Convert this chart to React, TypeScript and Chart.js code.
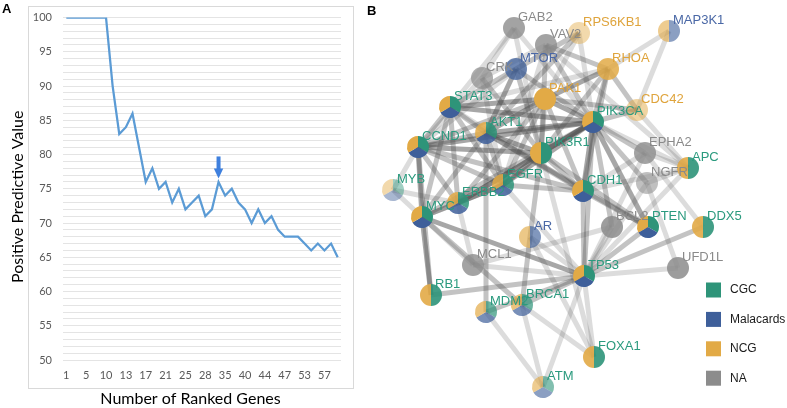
import React, { useEffect, useRef } from 'react';
import { Chart, registerables } from 'chart.js';

Chart.register(...registerables);

// ---------------- Panel A data ----------------
const rankLabels = ['1', '2', '3', '5', '6', '8', '10', '11', '12', '13', '14', '16', '17', '18', '20', '21', '22', '24', '25', '26', '27', '28', '30', '33', '35', '37', '38', '40', '41', '43', '44', '45', '46', '47', '49', '51', '53', '54', '56', '57', '58', '59'];
const shownRankTicks = ['1', '5', '10', '13', '17', '21', '25', '28', '35', '40', '44', '47', '53', '57'];
const ppvValues = [100, 100, 100, 100, 100, 100, 100, 90, 83, 84, 86, 81, 76, 78, 75, 76, 73, 75, 72, 73, 74, 71, 72, 76, 74, 75, 73, 72, 70, 72, 70, 71, 69, 68, 68, 68, 67, 66, 67, 66, 67, 65];
const markedRank = '33';
const yMin = 50;
const yMax = 100;

// ---------------- Panel B data ----------------
const geneNames = ['GAB2', 'RPS6KB1', 'MAP3K1', 'VAV2', 'MTOR', 'CRK', 'RHOA', 'PAK1', 'CDC42', 'STAT3', 'PIK3CA', 'AKT1', 'CCND1', 'PIK3R1', 'EPHA2', 'APC', 'MYB', 'EGFR', 'CDH1', 'NGFR', 'ERBB2', 'MYC', 'BCL2', 'PTEN', 'DDX5', 'AR', 'MCL1', 'UFD1L', 'TP53', 'RB1', 'BRCA1', 'MDM2', 'FOXA1', 'ATM'];
const geneX = [514, 579, 669, 546, 516, 482, 608, 545, 637, 450, 593, 486, 418, 541, 645, 688, 393, 503, 583, 647, 458, 422, 612, 648, 703, 530, 473, 678, 584, 431, 522, 486, 594, 543];
const geneY = [28, 33, 31, 45, 69, 78, 69, 99, 110, 107, 122, 133, 147, 153, 153, 168, 190, 185, 191, 183, 203, 217, 227, 227, 227, 237, 265, 268, 276, 295, 305, 312, 357, 387];
const inCGC = [0, 0, 0, 0, 0, 0, 0, 0, 0, 1, 1, 1, 1, 1, 0, 1, 1, 1, 1, 0, 1, 1, 0, 1, 1, 0, 0, 0, 1, 1, 1, 1, 1, 1];
const inMalacards = [0, 0, 1, 0, 1, 0, 0, 0, 0, 1, 1, 1, 1, 0, 0, 0, 1, 1, 1, 0, 1, 1, 0, 1, 0, 1, 0, 0, 1, 0, 1, 1, 0, 1];
const inNCG = [0, 1, 1, 0, 0, 0, 1, 1, 1, 1, 1, 1, 1, 1, 0, 1, 1, 1, 1, 0, 1, 1, 0, 1, 1, 1, 0, 0, 1, 1, 1, 1, 1, 1];
const geneOpacity = [0.8, 0.45, 0.6, 0.8, 0.75, 0.7, 0.85, 1, 0.5, 1, 1, 0.85, 1, 1, 0.8, 0.9, 0.45, 0.85, 1, 0.55, 0.85, 1, 0.85, 1, 0.9, 0.65, 0.8, 0.85, 1, 0.9, 0.7, 0.7, 0.9, 0.6];

const S = 0.5; // strong
const M = 0.34; // medium
const L = 0.2; // light
const interactions: [string, string, number][] = [
  ['GAB2', 'CRK', L], ['GAB2', 'PIK3R1', L], ['GAB2', 'PIK3CA', L], ['GAB2', 'STAT3', L],
  ['VAV2', 'RHOA', M], ['VAV2', 'PIK3R1', M], ['VAV2', 'PIK3CA', M], ['VAV2', 'EGFR', L], ['VAV2', 'APC', L], ['VAV2', 'CRK', L],
  ['RPS6KB1', 'MTOR', M], ['RPS6KB1', 'AKT1', M], ['RPS6KB1', 'PIK3CA', L], ['RPS6KB1', 'PAK1', L],
  ['MAP3K1', 'RHOA', L], ['MAP3K1', 'CDC42', L],
  ['MTOR', 'AKT1', S], ['MTOR', 'PIK3CA', M], ['MTOR', 'STAT3', M], ['MTOR', 'PIK3R1', M], ['MTOR', 'CCND1', L],
  ['CRK', 'PIK3R1', M], ['CRK', 'EGFR', L], ['CRK', 'CCND1', L],
  ['RHOA', 'PAK1', S], ['RHOA', 'CDC42', M], ['RHOA', 'PIK3CA', M], ['RHOA', 'PIK3R1', M], ['RHOA', 'CDH1', M], ['RHOA', 'STAT3', L],
  ['PAK1', 'CDC42', M], ['PAK1', 'PIK3CA', S], ['PAK1', 'PIK3R1', M], ['PAK1', 'STAT3', S], ['PAK1', 'AKT1', S], ['PAK1', 'CCND1', M], ['PAK1', 'EGFR', M], ['PAK1', 'ERBB2', M], ['PAK1', 'CDH1', M],
  ['CDC42', 'PIK3CA', M], ['CDC42', 'APC', L],
  ['STAT3', 'AKT1', M], ['STAT3', 'PIK3CA', S], ['STAT3', 'CCND1', M], ['STAT3', 'EGFR', M], ['STAT3', 'ERBB2', M], ['STAT3', 'MYC', M], ['STAT3', 'CDH1', L],
  ['CCND1', 'AKT1', M], ['CCND1', 'PIK3CA', S], ['CCND1', 'PIK3R1', S], ['CCND1', 'MYC', S], ['CCND1', 'MYB', L], ['CCND1', 'EGFR', M], ['CCND1', 'ERBB2', M], ['CCND1', 'CDH1', M], ['CCND1', 'RB1', M],
  ['AKT1', 'PIK3CA', S], ['AKT1', 'PIK3R1', S], ['AKT1', 'EGFR', M], ['AKT1', 'MDM2', M], ['AKT1', 'CDH1', M], ['AKT1', 'MYC', M], ['AKT1', 'PTEN', M],
  ['PIK3CA', 'PIK3R1', S], ['PIK3CA', 'CDH1', S], ['PIK3CA', 'EGFR', S], ['PIK3CA', 'ERBB2', S], ['PIK3CA', 'TP53', M], ['PIK3CA', 'PTEN', S], ['PIK3CA', 'EPHA2', M], ['PIK3CA', 'NGFR', M], ['PIK3CA', 'BCL2', M], ['PIK3CA', 'APC', L], ['PIK3CA', 'MYC', M],
  ['PIK3R1', 'EGFR', S], ['PIK3R1', 'ERBB2', M], ['PIK3R1', 'CDH1', M], ['PIK3R1', 'AR', M], ['PIK3R1', 'FOXA1', L], ['PIK3R1', 'PTEN', M],
  ['EGFR', 'ERBB2', S], ['EGFR', 'CDH1', M], ['EGFR', 'MYC', M], ['EGFR', 'TP53', L],
  ['CDH1', 'PTEN', M], ['CDH1', 'APC', L], ['CDH1', 'TP53', M], ['CDH1', 'EPHA2', L],
  ['ERBB2', 'MYC', M], ['MYB', 'MYC', L], ['MYB', 'ERBB2', L],
  ['MYC', 'RB1', S], ['MYC', 'TP53', S], ['MYC', 'BRCA1', M], ['MYC', 'MCL1', L],
  ['RB1', 'TP53', M], ['MCL1', 'TP53', L], ['MCL1', 'BCL2', L], ['MCL1', 'ERBB2', L],
  ['MDM2', 'TP53', M], ['MDM2', 'ATM', L], ['BRCA1', 'TP53', M], ['BRCA1', 'ATM', L], ['BRCA1', 'FOXA1', L],
  ['AR', 'BRCA1', M], ['AR', 'FOXA1', L], ['AR', 'TP53', L], ['ATM', 'TP53', L], ['FOXA1', 'TP53', L],
  ['TP53', 'BCL2', L], ['TP53', 'PTEN', M], ['TP53', 'DDX5', M], ['TP53', 'UFD1L', L], ['TP53', 'NGFR', L], ['TP53', 'EPHA2', L], ['TP53', 'APC', L],
  ['UFD1L', 'NGFR', L], ['EPHA2', 'DDX5', L], ['EPHA2', 'APC', L], ['NGFR', 'APC', L],
];

const legendNames = ['CGC', 'Malacards', 'NCG', 'NA'];
const legendColors = ['#2e9479', '#3e5f9a', '#e2aa46', '#8c8c8c'];
const labelColors = ['#2a9a7e', '#4a68a6', '#dfa43c', '#8a8a8a'];

const excelFont = "Lato, 'Open Sans', sans-serif";
const netFont = "'Liberation Sans', Arial, sans-serif";

// ---------------- Panel A plugin ----------------
const panelAPlugin = {
  id: 'panelA',
  beforeDraw(chart: any) {
    const { ctx, chartArea: ca } = chart;
    ctx.save();
    ctx.fillStyle = '#ffffff';
    ctx.fillRect(0, 0, chart.width, chart.height);
    const bx = Math.round(ca.left - 35) + 0.5;
    const by = Math.round(ca.top - 12) + 0.5;
    const bw = Math.round(ca.right + 12 - (ca.left - 35));
    const bh = Math.round(ca.bottom + 28 - (ca.top - 12));
    ctx.strokeStyle = '#d9d9d9';
    ctx.lineWidth = 1;
    ctx.strokeRect(bx, by, bw, bh);
    ctx.restore();
  },
  afterDatasetsDraw(chart: any) {
    const { ctx } = chart;
    const xs = chart.scales.x;
    const ys = chart.scales.y;
    const idx = rankLabels.indexOf(markedRank);
    const x = xs.getPixelForValue(idx);
    const tip = ys.getPixelForValue(ppvValues[idx]) - 3.5;
    ctx.save();
    ctx.fillStyle = '#3f80de';
    ctx.fillRect(x - 2, tip - 22, 4, 13);
    ctx.beginPath();
    ctx.moveTo(x - 4.7, tip - 10);
    ctx.lineTo(x + 4.7, tip - 10);
    ctx.lineTo(x, tip);
    ctx.closePath();
    ctx.fill();
    ctx.restore();
  },
  afterDraw(chart: any) {
    const { ctx, chartArea: ca } = chart;
    const boxL = ca.left - 35;
    const boxR = ca.right + 12;
    const boxT = ca.top - 12;
    const boxB = ca.bottom + 28;
    ctx.save();
    ctx.fillStyle = '#000000';
    ctx.font = `16px ${excelFont}`;
    ctx.textAlign = 'center';
    ctx.textBaseline = 'middle';
    ctx.fillText('Number of Ranked Genes', (boxL + boxR) / 2, boxB + 11);
    ctx.translate(18, (boxT + boxB) / 2);
    ctx.rotate(-Math.PI / 2);
    ctx.fillText('Positive Predictive Value', 0, 0);
    ctx.restore();
    ctx.save();
    ctx.fillStyle = '#000000';
    ctx.font = `bold 13px ${netFont}`;
    ctx.textAlign = 'left';
    ctx.textBaseline = 'top';
    ctx.fillText('A', 2, 3);
    ctx.restore();
  },
};

// ---------------- Panel B plugin ----------------
const networkPlugin = {
  id: 'network',
  beforeDraw(chart: any) {
    const { ctx } = chart;
    ctx.save();
    ctx.fillStyle = '#ffffff';
    ctx.fillRect(0, 0, chart.width, chart.height);
    ctx.restore();
  },
  afterDatasetsDraw(chart: any) {
    const { ctx } = chart;
    const meta = chart.getDatasetMeta(0);
    const pt = (name: string) => meta.data[geneNames.indexOf(name)];
    ctx.save();
    ctx.lineCap = 'butt';
    for (const [a, b, w] of interactions) {
      const p = pt(a);
      const q = pt(b);
      if (!p || !q) continue;
      ctx.strokeStyle = `rgba(80,80,80,${w})`;
      ctx.lineWidth = 5;
      ctx.beginPath();
      ctx.moveTo(p.x, p.y);
      ctx.lineTo(q.x, q.y);
      ctx.stroke();
    }
    ctx.restore();

    const r = 11;
    geneNames.forEach((name, i) => {
      const p = meta.data[i];
      const cols: string[] = [];
      if (inCGC[i]) cols.push(legendColors[0]);
      if (inMalacards[i]) cols.push(legendColors[1]);
      if (inNCG[i]) cols.push(legendColors[2]);
      if (!cols.length) cols.push(legendColors[3]);
      ctx.save();
      ctx.globalAlpha = geneOpacity[i];
      if (cols.length === 1) {
        ctx.fillStyle = cols[0];
        ctx.beginPath();
        ctx.arc(p.x, p.y, r, 0, Math.PI * 2);
        ctx.fill();
      } else {
        const step = (Math.PI * 2) / cols.length;
        cols.forEach((c, k) => {
          const s = -Math.PI / 2 + k * step;
          ctx.fillStyle = c;
          ctx.beginPath();
          ctx.moveTo(p.x, p.y);
          ctx.arc(p.x, p.y, r, s, s + step);
          ctx.closePath();
          ctx.fill();
        });
      }
      ctx.restore();
    });

    ctx.save();
    ctx.font = `13px ${netFont}`;
    ctx.textAlign = 'left';
    ctx.textBaseline = 'middle';
    geneNames.forEach((name, i) => {
      const p = meta.data[i];
      const ci = inCGC[i] ? 0 : inMalacards[i] ? 1 : inNCG[i] ? 2 : 3;
      ctx.fillStyle = labelColors[ci];
      ctx.fillText(name, p.x + 4, p.y - 11);
    });
    ctx.restore();
  },
  afterDraw(chart: any) {
    const { ctx, chartArea: ca } = chart;
    ctx.save();
    const sqX = ca.right - 81;
    const txtX = ca.right - 57;
    const y0 = ca.bottom - 118;
    ctx.font = `12px ${netFont}`;
    ctx.textAlign = 'left';
    ctx.textBaseline = 'middle';
    legendNames.forEach((n, k) => {
      const cy = y0 + k * 29.4;
      ctx.fillStyle = legendColors[k];
      ctx.fillRect(sqX, cy - 7.5, 15, 15);
      ctx.fillStyle = '#1a1a1a';
      ctx.fillText(n, txtX, cy);
    });
    ctx.fillStyle = '#000000';
    ctx.font = `bold 13px ${netFont}`;
    ctx.textBaseline = 'top';
    ctx.fillText('B', 2, 5);
    ctx.restore();
  },
};

export default function App() {
  const aRef = useRef<HTMLCanvasElement>(null);
  const bRef = useRef<HTMLCanvasElement>(null);

  useEffect(() => {
    const chartA = new Chart(aRef.current as HTMLCanvasElement, {
      type: 'line',
      data: {
        labels: rankLabels,
        datasets: [
          {
            data: ppvValues,
            borderColor: '#5b9bd5',
            borderWidth: 2.25,
            pointRadius: 0,
            tension: 0,
            fill: false,
          },
        ],
      },
      options: {
        animation: false,
        responsive: false,
        events: [],
        layout: { padding: { top: 16, right: 24, bottom: 0, left: 0 } },
        plugins: { legend: { display: false }, tooltip: { enabled: false } },
        scales: {
          x: {
            offset: true,
            grid: { display: false, drawTicks: false },
            border: { display: false },
            ticks: {
              autoSkip: false,
              maxRotation: 0,
              minRotation: 0,
              padding: 9,
              color: '#595959',
              font: { family: excelFont, size: 11 },
              callback: (_v: any, i: number) => (shownRankTicks.includes(rankLabels[i]) ? rankLabels[i] : ''),
            },
            afterFit: (s: any) => {
              s.height = 48;
            },
          },
          y: {
            min: yMin,
            max: yMax,
            grid: { color: '#e4e4e4', drawTicks: false, lineWidth: 1 },
            border: { display: false },
            ticks: {
              stepSize: 1,
              autoSkip: false,
              padding: 11,
              color: '#595959',
              font: { family: excelFont, size: 11 },
              callback: (v: any) => (Number(v) % 5 === 0 ? String(v) : ''),
            },
            afterFit: (s: any) => {
              s.width = 63;
            },
          },
        },
      },
      plugins: [panelAPlugin],
    } as any);

    const chartB = new Chart(bRef.current as HTMLCanvasElement, {
      type: 'scatter',
      data: {
        datasets: [
          {
            data: geneX.map((x, i) => ({ x, y: geneY[i] })),
            pointRadius: 0,
            pointHoverRadius: 0,
          },
        ],
      },
      options: {
        animation: false,
        responsive: false,
        events: [],
        layout: { padding: 0 },
        plugins: { legend: { display: false }, tooltip: { enabled: false } },
        scales: {
          x: { type: 'linear', min: 365, max: 787, display: false },
          y: { type: 'linear', min: 0, max: 408, reverse: true, display: false },
        },
      },
      plugins: [networkPlugin],
    } as any);

    return () => {
      chartA.destroy();
      chartB.destroy();
    };
  }, []);

  return (
    <div style={{ position: 'fixed', left: 0, top: 0, width: 787, height: 408, background: '#ffffff', overflow: 'hidden' }}>
      <canvas ref={aRef} width={365} height={408} style={{ position: 'absolute', left: 0, top: 0, width: 365, height: 408 }} />
      <canvas ref={bRef} width={422} height={408} style={{ position: 'absolute', left: 365, top: 0, width: 422, height: 408 }} />
    </div>
  );
}
